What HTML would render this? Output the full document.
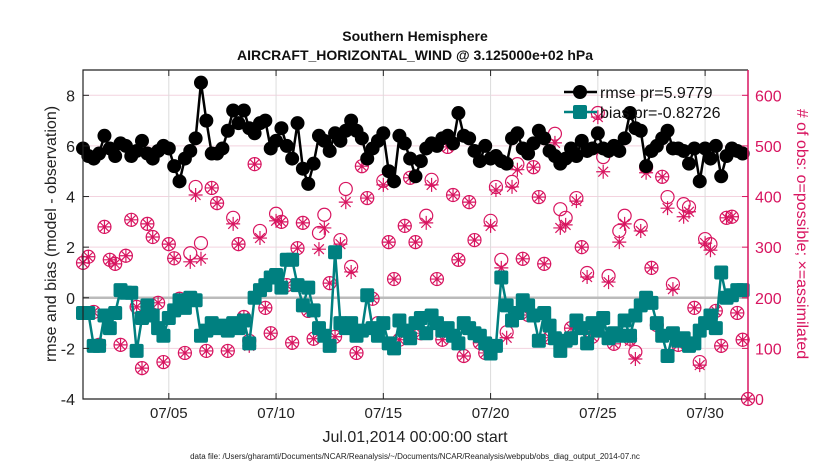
<!DOCTYPE html>
<html><head><meta charset="utf-8"><style>
body{margin:0;background:#fff;}
svg{display:block;font-family:"Liberation Sans",sans-serif;}
</style></head><body>
<svg id="chart" width="830" height="470" viewBox="0 0 830 470">
<rect width="830" height="470" fill="#fff"/>
<text x="415" y="41" text-anchor="middle" font-size="14" font-weight="bold" fill="#111">Southern Hemisphere</text>
<text x="415" y="60" text-anchor="middle" font-size="14" font-weight="bold" fill="#111">AIRCRAFT_HORIZONTAL_WIND @ 3.125000e+02 hPa</text>
<g id="grid"></g>
<g id="obs"></g>
<g id="series"></g>
<g id="axes"></g>
<g id="legend">
 <line x1="564" y1="92" x2="597" y2="92" stroke="#000" stroke-width="2.5"/>
 <circle cx="580" cy="92" r="7" fill="#000"/>
 <text x="600" y="98" font-size="16" fill="#111">rmse pr=5.9779</text>
 <line x1="564" y1="112" x2="597" y2="112" stroke="#008080" stroke-width="2.5"/>
 <rect x="573" y="105" width="14" height="14" rx="2" fill="#008080"/>
 <text x="600" y="118" font-size="16" fill="#111">bias pr=-0.82726</text>
</g>
<text transform="translate(56,234) rotate(-90)" text-anchor="middle" font-size="16" fill="#222">rmse and bias (model - observation)</text>
<text transform="translate(797,234) rotate(90)" text-anchor="middle" font-size="16" fill="#d81560"># of obs: o=possible; ×=assimilated</text>
<text x="415" y="442" text-anchor="middle" font-size="16" fill="#222">Jul.01,2014 00:00:00 start</text>
<text x="415" y="459" text-anchor="middle" font-size="8" fill="#222">data file: /Users/gharamti/Documents/NCAR/Reanalysis/~/Documents/NCAR/Reanalysis/webpub/obs_diag_output_2014-07.nc</text>
</svg>
<script>
const xTickDays=[4,9,14,19,24,29];
const xTickLabels=["07/05","07/10","07/15","07/20","07/25","07/30"];
const yLeftTicks=[-4,-2,0,2,4,6,8];
const yRightTicks=[0,100,200,300,400,500,600];
const rmse=[5.9,5.6,5.5,5.7, 6.4,5.9,5.6,6.1, 6.0,5.6,5.8,6.2, 5.7,5.5,5.8,6.0, 5.9,5.2,4.6,5.5,
 5.8,6.3,8.5,7.0, 5.7,5.7,5.9,6.6, 7.4,6.9,7.4,6.7, 6.5,6.9,7.0,5.9, 6.2,6.7,6.0,5.5,
 6.9,5.1,4.5,5.3, 6.4,6.2,5.8,6.5, 6.2,6.6,7.0,6.6, 6.3,5.5,5.9,6.2, 6.5,5.0,4.6,6.4,
 6.1,5.5,4.8,5.4, 5.9,6.1,6.0,6.3, 6.4,6.1,7.3,6.4, 6.3,5.8,5.4,6.0, 5.5,5.6,5.4,5.3,
 6.3,6.5,5.9,5.7, 6.1,6.6,6.3,5.8, 5.6,5.3,5.5,5.9, 5.6,6.2,5.8,5.9, 6.5,5.9,5.8,6.0,
 5.8,6.3,7.3,6.7, 6.6,5.2,5.8,6.0, 6.3,6.6,5.9,5.9, 5.8,5.3,5.9,4.6, 5.9,5.5,6.0,4.8,
 5.6,5.9,5.8,5.7];
const bias=[-0.6,-0.6,-1.9,-1.9, -0.7,-1.2,-0.6,0.3, 0.2,0.2,-2.1,-0.8, -0.3,-0.7,-1.2,-1.5, -0.8,-0.5,-0.1,-0.4,
 0.0,-0.1,-1.5,-1.3, -1.0,-1.2,-1.1,-1.3, -1.0,-1.2,-0.9,-1.8, 0.0,0.3,0.5,0.8, 0.9,0.4,1.5,1.5,
 0.5,-0.3,0.4,-0.5, -1.2,-1.5,-1.9,1.8, -1.0,-1.2,-1.0,-1.5, -1.3,0.1,-1.2,-1.5, -1.0,-1.8,-2.0,-0.9,
 -1.3,-1.6,-1.0,-0.8, -1.4,-0.7,-1.0,-1.3, -1.2,-1.5,-1.8,-1.0, -1.2,-1.4,-1.5,-1.8, -2.2,-1.9,0.8,-0.3,
 -0.9,-0.6,-0.1,-0.3, -0.7,-1.7,-0.6,-1.1, -1.6,-2.1,-1.7,-1.6, -0.9,-1.2,-1.8,-1.0, -1.3,-0.8,-1.6,-1.4,
 -1.5,-0.9,-1.5,-0.7, -0.3,0.0,-0.2,-1.0, -1.5,-2.3,-1.4,-1.7, -1.6,-1.9,-1.8,-1.3, -1.0,-0.7,-1.2,1.0,
 0.0,0.1,0.3,0.3];
const possible=[269,281,172,107,340,275,267,107,283,354,182,61,346,320,190,73,306,278,198,91,
 288,419,308,95,417,387,144,95,358,306,162,115,464,332,180,130,366,350,225,111,
 298,348,174,119,328,364,229,123,314,415,261,91,460,397,198,150,431,310,237,117,
 342,437,310,130,362,433,237,117,498,403,275,85,389,314,111,91,352,419,275,132,
 429,464,277,166,458,399,267,121,524,375,358,140,397,300,249,123,565,478,243,109,
 332,362,119,93,342,458,259,146,439,399,227,107,385,379,180,73,316,306,174,105,
 358,360,170,117,0];
const assimilated=[269,281,172,107,340,275,267,107,283,354,182,61,346,320,190,73,306,278,198,91,
 271,403,277,95,417,387,144,95,346,306,162,105,464,318,180,130,352,350,225,111,
 298,348,174,119,296,338,229,123,306,389,251,91,460,397,198,138,423,310,237,117,
 342,437,310,130,348,423,237,117,498,403,275,85,389,314,111,91,342,413,259,121,
 419,453,277,166,458,399,267,121,506,338,344,140,391,300,241,123,557,449,231,109,
 310,346,115,79,332,447,259,146,439,377,217,107,360,370,180,67,308,294,174,105,
 358,360,170,117,0];

const L=83,R=748,T=70,B=399;
const xDay=d=>L+d*(R-L)/31;
const yLeft=v=>B-(v+4)*(B-T)/13;
const yRight=v=>B-v*(B-T)/650;
const NS="http://www.w3.org/2000/svg";
function mk(tag,attrs,parent){const e=document.createElementNS(NS,tag);for(const k in attrs)e.setAttribute(k,attrs[k]);parent.appendChild(e);return e;}
const grid=document.getElementById('grid'),obs=document.getElementById('obs'),ser=document.getElementById('series'),axes=document.getElementById('axes');
const PINK="#d81560",TEAL="#008080";

yRightTicks.forEach(v=>{const l=mk('line',{x1:L,x2:R,y1:yRight(v),y2:yRight(v),stroke:'#f3d3df','stroke-width':1},grid);

});
xTickDays.forEach(d=>{const l=mk('line',{x1:xDay(d),x2:xDay(d),y1:T,y2:B,stroke:'#dcdcdc','stroke-width':1},grid);

});
const zl=mk('line',{x1:L,x2:R,y1:yLeft(0),y2:yLeft(0),stroke:'#bbb','stroke-width':2.5},grid);



possible.forEach((v,i)=>{const x=xDay(i/4);
 const c=mk('circle',{cx:x,cy:yRight(v),r:6.5,fill:'none',stroke:PINK,'stroke-width':1.2},obs);
 
 
 const y=yRight(assimilated[i]);const s=7;
 const g=mk('path',{d:`M${x-s},${y}H${x+s}M${x},${y-s}V${y+s}M${x-s*0.7},${y-s*0.7}L${x+s*0.7},${y+s*0.7}M${x-s*0.7},${y+s*0.7}L${x+s*0.7},${y-s*0.7}`,stroke:PINK,'stroke-width':1.2,fill:'none'},obs);
 
 
});

const rl=mk('polyline',{points:rmse.map((v,i)=>xDay(i/4)+','+yLeft(v)).join(' '),fill:'none',stroke:'#000','stroke-width':2.5},ser);


rmse.forEach((v,i)=>{const c=mk('circle',{cx:xDay(i/4),cy:yLeft(v),r:7,fill:'#000'},ser);
 
 });
const bl=mk('polyline',{points:bias.map((v,i)=>xDay(i/4)+','+yLeft(v)).join(' '),fill:'none',stroke:TEAL,'stroke-width':2.5},ser);


bias.forEach((v,i)=>{const r=mk('rect',{x:xDay(i/4)-7,y:yLeft(v)-7,width:14,height:14,rx:2,fill:TEAL},ser);
 
 });

const box=mk('path',{d:`M${R},${T}H${L}V${B}H${R}`,fill:'none',stroke:'#222','stroke-width':1.2},axes);


const ra=mk('line',{x1:R,x2:R,y1:T,y2:B,stroke:PINK,'stroke-width':1.5},axes);


yLeftTicks.forEach(v=>{const y=yLeft(v);
 mk('line',{x1:L,x2:L+6,y1:y,y2:y,stroke:'#222'},axes);
 const t=mk('text',{x:L-8,y:y+6,'text-anchor':'end','font-size':16,fill:'#222'},axes);t.textContent=v;
 
 });
yRightTicks.forEach(v=>{const y=yRight(v);
 mk('line',{x1:R-6,x2:R,y1:y,y2:y,stroke:PINK},axes);
 const t=mk('text',{x:R+7,y:y+6,'font-size':16,fill:PINK},axes);t.textContent=v;
 
 });
xTickDays.forEach((d,i)=>{const x=xDay(d);
 mk('line',{x1:x,x2:x,y1:B,y2:B-6,stroke:'#222'},axes);
 mk('line',{x1:x,x2:x,y1:T,y2:T+6,stroke:'#222'},axes);
 const t=mk('text',{x:x,y:418,'text-anchor':'middle','font-size':15,fill:'#222'},axes);t.textContent=xTickLabels[i];
 
 });
</script>
</body></html>
